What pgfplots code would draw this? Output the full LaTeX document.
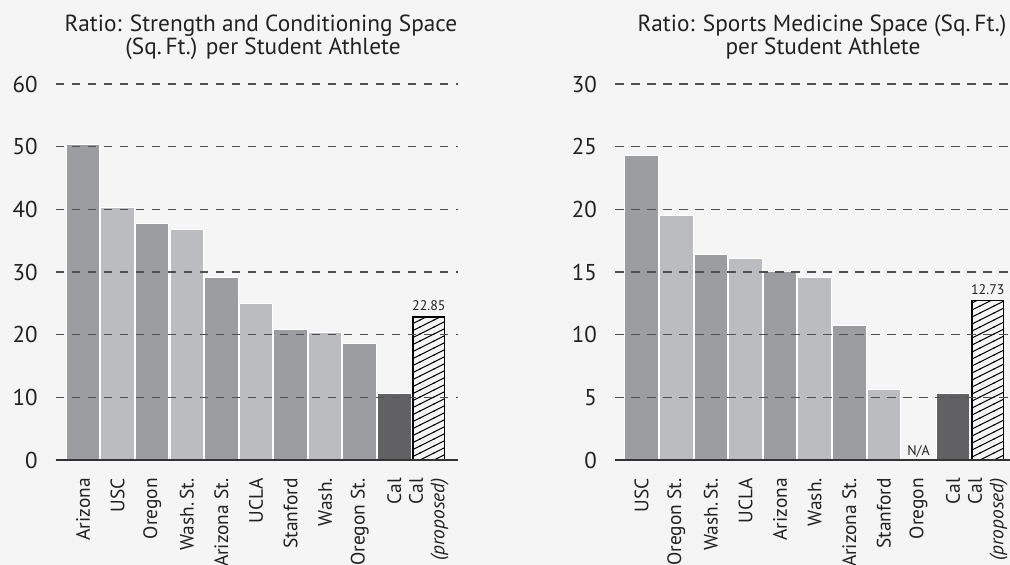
\documentclass[border=0pt]{standalone}
\usepackage{fontspec}
\setmainfont{PT Sans}
\usepackage{pgfplots}
\pgfplotsset{compat=1.18}
\usetikzlibrary{patterns}
\definecolor{bg}{HTML}{F5F5F5}
\definecolor{barA}{HTML}{9C9DA1}
\definecolor{barB}{HTML}{BBBCBF}
\definecolor{barC}{HTML}{616163}
\definecolor{gridc}{HTML}{505050}
\definecolor{axisc}{HTML}{333333}
\definecolor{txt}{HTML}{222222}
\pgfdeclarepatternformonly{shallowhatch}{\pgfqpoint{-1bp}{-1bp}}{\pgfqpoint{15bp}{8bp}}{\pgfqpoint{14bp}{7bp}}{%
  \pgfsetlinewidth{1bp}%
  \pgfpathmoveto{\pgfqpoint{-1bp}{-0.5bp}}%
  \pgfpathlineto{\pgfqpoint{15bp}{7.5bp}}%
  \pgfusepath{stroke}%
}
\pgfplotsset{
  /pgf/number format/assume math mode=true,
  mybars/.style={
    scale only axis, height=376bp, ymin=0,
    ybar, bar width=33.5bp, bar shift=0pt,
    axis on top,
    axis line style={draw=none},
    major tick length=0pt,
    ymajorgrids,
    major grid style={gridc, line width=1.1bp, dash pattern=on 8.5bp off 7.5bp},
    extra y ticks={0},
    extra y tick labels={},
    extra y tick style={grid=major, major grid style={solid, axisc, line width=1.4bp}},
    xtick={0,...,10},
    yticklabel style={font=\fontsize{23}{23}\selectfont, text=txt, inner sep=0pt},
    yticklabel shift=18bp,
    xticklabel style={font=\fontsize{19.5}{21.5}\selectfont, text=txt, rotate=90, anchor=east, align=right, inner sep=0pt},
    xticklabel shift=18bp,
    every axis plot/.append style={draw=white, line width=1bp},
  },
  hatchbar/.style={draw=black, line width=1.4bp, bar width=31.5bp,
    pattern=shallowhatch, pattern color=black},
}
\begin{document}
\begin{tikzpicture}
\fill[bg] (0,0) rectangle (1010bp,565bp);
% Left chart
\begin{axis}[mybars, at={(55.7bp,105bp)}, anchor=south west, width=402.6bp,
  xmin=-0.79, xmax=10.85, ymax=60, ytick={0,10,...,60},
  xticklabels={Arizona,USC,Oregon,Wash.\,St.,Arizona St.,UCLA,Stanford,Wash.,Oregon St.,Cal,{Cal\\\textit{(proposed)}}}]
\addplot[fill=barA] coordinates {(0,50.4) (2,37.75) (4,29.2) (6,20.9) (8,18.6)};
\addplot[fill=barB] coordinates {(1,40.3) (3,36.8) (5,25.0) (7,20.4)};
\addplot[fill=barC] coordinates {(9,10.6)};
\addplot[hatchbar] coordinates {(10,22.85)};
\node[anchor=south, inner sep=0pt, font=\fontsize{14}{14}\selectfont, text=txt] at (axis cs:10,22.85) [yshift=5.5bp] {22.85};
\end{axis}
% Right chart
\begin{axis}[mybars, at={(615bp,105bp)}, anchor=south west, width=397bp,
  xmin=-0.77, xmax=10.7, ymax=30, ytick={0,5,...,30},
  xticklabels={USC,Oregon St.,Wash.\,St.,UCLA,Arizona,Wash.,Arizona St.,Stanford,Oregon,Cal,{Cal\\\textit{(proposed)}}}]
\addplot[fill=barA] coordinates {(0,24.3) (2,16.4) (4,15.0) (6,10.7)};
\addplot[fill=barB] coordinates {(1,19.5) (3,16.05) (5,14.6) (7,5.65)};
\addplot[fill=barC] coordinates {(9,5.3)};
\addplot[hatchbar] coordinates {(10,12.73)};
\node[anchor=south, inner sep=0pt, font=\fontsize{14}{14}\selectfont, text=txt] at (axis cs:10,12.73) [yshift=5.5bp] {12.73};
\node[anchor=base, inner sep=0pt, font=\fontsize{14}{14}\selectfont, text=txt] at (axis cs:8,0) [yshift=4.5bp] {N/A};
\end{axis}
% Titles
\node[anchor=base, inner sep=0pt, font=\fontsize{23.4}{26}\selectfont, text=txt] at (261bp,533.3bp) {Ratio: Strength and Conditioning Space};
\node[anchor=base, inner sep=0pt, font=\fontsize{23.4}{26}\selectfont, text=txt] at (263bp,510bp) {(Sq.\,Ft.) per Student Athlete};
\node[anchor=base, inner sep=0pt, font=\fontsize{23.4}{26}\selectfont, text=txt] at (822bp,533.3bp) {Ratio: Sports Medicine Space (Sq.\,Ft.)};
\node[anchor=base, inner sep=0pt, font=\fontsize{23.4}{26}\selectfont, text=txt] at (823bp,510bp) {per Student Athlete};
\pgfresetboundingbox
\useasboundingbox (0,0) rectangle (1010bp,565bp);
\end{tikzpicture}
\end{document}
